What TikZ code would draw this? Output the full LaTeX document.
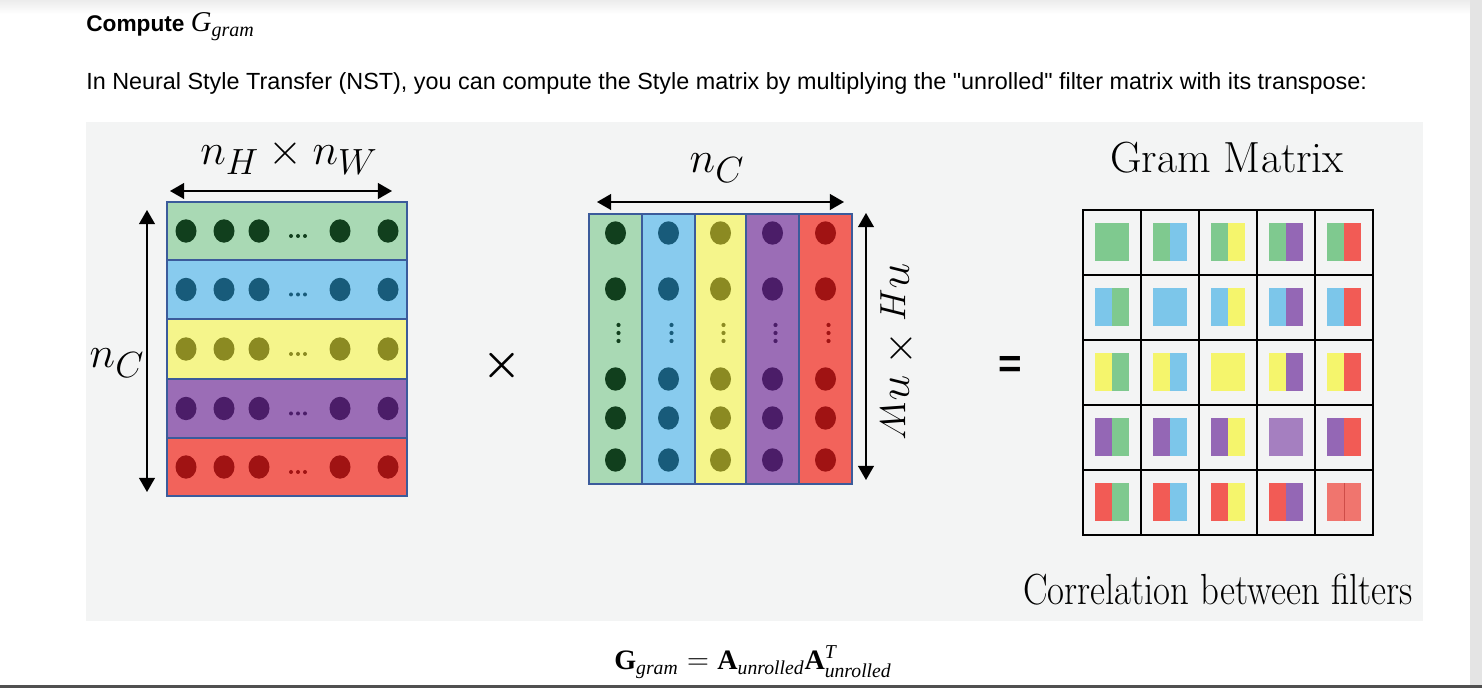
\documentclass[tikz,border=0pt]{standalone}
\usepackage{fontspec}
\usepackage{amsmath}
\usepackage{graphicx}
\newfontfamily\arialf{Liberation Sans}
\newfontfamily\timesf{Liberation Serif}
\usetikzlibrary{arrows.meta,positioning}

\definecolor{panel}{HTML}{F3F4F4}
\definecolor{scrollgray}{HTML}{E4E4E4}
\definecolor{bottombar}{HTML}{505050}
\definecolor{mborder}{HTML}{3B5B9B}
\definecolor{rowgreen}{HTML}{A9D9B4}
\definecolor{rowblue}{HTML}{88CBEE}
\definecolor{rowyellow}{HTML}{F5F58B}
\definecolor{rowpurple}{HTML}{9B6DB6}
\definecolor{rowred}{HTML}{F2635B}
\definecolor{dotgreen}{HTML}{113F1D}
\definecolor{dotblue}{HTML}{185B7A}
\definecolor{dotyellow}{HTML}{8B8A22}
\definecolor{dotpurple}{HTML}{4B1D68}
\definecolor{dotred}{HTML}{A01313}
\definecolor{ggreen}{HTML}{7FC98F}
\definecolor{gblue}{HTML}{7CC6EA}
\definecolor{gyellow}{HTML}{F5F56C}
\definecolor{gpurple}{HTML}{9467B5}
\definecolor{gred}{HTML}{F25B55}
\definecolor{gpurplelt}{HTML}{A57FC0}
\definecolor{gredlt}{HTML}{F0756E}

\newcommand{\tbf}[1]{\text{\timesf\mdseries\bfseries #1}}
\newcommand{\tit}[1]{\text{\timesf\mdseries\itshape #1}}

\begin{document}
\begin{tikzpicture}[
    x=0.02cm, y=-0.02cm,
    dimarrow/.style={{Triangle[length=8pt,width=9pt]}-{Triangle[length=8pt,width=9pt]}, line width=0.8pt},
    mathlbl/.style={font=\fontsize{28}{32}\selectfont, inner sep=0pt, anchor=base},
    serifttl/.style={font=\fontsize{24.8}{30}\selectfont, inner sep=0pt, anchor=base},
    frame/.style={draw=mborder, line width=0.6pt},
    cellline/.style={line width=1.1pt},
]

% ====== Page ======
\useasboundingbox (0,0) rectangle (1482,688);
\fill[white] (0,0) rectangle (1482,688);
\shade[top color=gray!15, bottom color=white] (0,0) rectangle (1470,14);
\fill[scrollgray] (1470,0) rectangle (1482,686);
\fill[bottombar] (0,685) rectangle (1482,688);

% ====== Heading ======
\node[anchor=base west, inner sep=0pt, font=\arialf\bfseries\fontsize{12.9}{15}\selectfont] (heading) at (86,32)
  {Compute {\fontsize{16.3}{18}\selectfont$\tit{G}_{\tit{gram}}$}};
\node[anchor=base west, inner sep=0pt, font=\arialf\fontsize{13.3}{15}\selectfont] (intro) at (86,90)
  {In Neural Style Transfer (NST), you can compute the Style matrix by multiplying the "unrolled" filter matrix with its transpose:};

\fill[panel] (86,122) rectangle (1423,621);

% ====== Unrolled filter matrix ======
\foreach \clr/\ya/\yb in {green/202/260, blue/260/319, yellow/319/379, purple/379/438, red/438/496} {
  \pgfmathsetmacro\ym{(\ya+\yb)/2}
  \filldraw[fill=row\clr, frame] (167,\ya) rectangle (407,\yb);
  \foreach \xd in {186,224,259,340,388}
    \fill[dot\clr] (\xd,\ym) ellipse [x radius=10.5, y radius=11.7];
  % row ellipsis
  \foreach \xd in {291,298,305}
    \fill[dot\clr] (\xd,\ym+5) circle [radius=2];
}

\coordinate (hwL) at (170,191);
\coordinate (hwR) at (392,191);
\coordinate (ncT) at (147,210);
\coordinate (ncB) at (147,492);
\draw[dimarrow] (hwL) -- (hwR);
\draw[dimarrow] (ncT) -- (ncB);
\node[mathlbl] (lblHW) at (289,165) {$n_H \times n_W$};
\node[mathlbl] (lblC) at (117,368) {$n_C$};

\node[font=\boldmath\fontsize{42}{46}\selectfont] (times) at (502,366) {$\times$};

% ====== Transpose ======
\foreach \clr/\xa/\xb in {green/589/642, blue/642/695, yellow/695/746, purple/746/799, red/799/852} {
  \pgfmathsetmacro\xm{(\xa+\xb)/2}
  \filldraw[fill=row\clr, frame] (\xa,214) rectangle (\xb,484);
  \foreach \yd in {233,289,379,418,460}
    \fill[dot\clr] (\xm,\yd) ellipse [x radius=10.5, y radius=11.7];
  % column ellipsis
  \foreach \yd in {325,333,341}
    \fill[dot\clr] (\xm+3,\yd) circle [radius=2.1];
}

\coordinate (cL) at (597,202);
\coordinate (cR) at (844,202);
\coordinate (hwT) at (866,213);
\coordinate (hwB) at (866,480);
\draw[dimarrow] (cL) -- (cR);
\draw[dimarrow] (hwT) -- (hwB);
\node[mathlbl] (lblC2) at (717,173) {$n_C$};
\node[mathlbl, anchor=center, rotate=-90] (lblHW2) at (898,352) {$n_H \times n_W$};

\node[font=\arialf\bfseries\fontsize{23}{28}\selectfont] (eq) at (1010,367) {=};

% ====== Gram matrix ======
\node[serifttl] (gramTtl) at (1227,173) {Gram Matrix};
\foreach \rc [count=\r from 0] in {green,blue,yellow,purple,red}
  \foreach \cc [count=\c from 0] in {green,blue,yellow,purple,red} {
    \pgfmathsetmacro\cx{1112+58*\c}
    \pgfmathsetmacro\cy{242.5+65*\r}
    \fill[g\rc] (\cx-17,\cy-19) rectangle (\cx,\cy+19);
    \fill[g\cc] (\cx,\cy-19) rectangle (\cx+17,\cy+19);
  }
\fill[gpurplelt] (1269,418.5) rectangle (1303,456.5);
\fill[gredlt] (1327,483.5) rectangle (1361,521.5);
\draw[gred!85!black, line width=0.4pt] (1344,483.5) -- (1344,521.5);
\draw[cellline] (1083,210) rectangle (1373,535);
\foreach \k in {1,...,4} {
  \draw[cellline] ({1083+58*\k},210) -- ({1083+58*\k},535);
  \draw[cellline] (1083,{210+65*\k}) -- (1373,{210+65*\k});
}
\node[serifttl] (corr) at (1218,605) {\scalebox{0.845}[1]{Correlation between filters}};

% ====== Formula ======
\node[anchor=base, inner sep=0pt, font=\fontsize{16}{19}\selectfont] (gform) at (753,670)
  {$\tbf{G}_{\tit{gram}} = \tbf{A}_{\tit{unrolled}}\tbf{A}^{\tit{T}}_{\tit{unrolled}}$};

\end{tikzpicture}
\end{document}
